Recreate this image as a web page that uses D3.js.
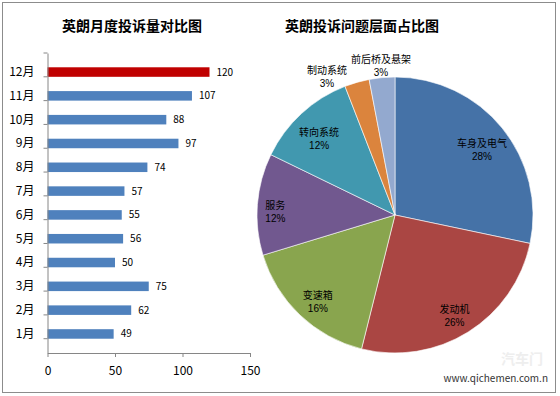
<!DOCTYPE html>
<html>
<head>
<meta charset="utf-8">
<script src="https://cdn.jsdelivr.net/npm/d3@7"></script>
<style>
  body { margin: 0; background: #fff; }
  svg text { font-family: "Noto Sans CJK SC", "DejaVu Sans", sans-serif; fill: #000; }
</style>
</head>
<body>
<div id="chart"></div>
<script>
// ---- data ----
const months = ["1月", "2月", "3月", "4月", "5月", "6月", "7月", "8月", "9月", "10月", "11月", "12月"];
const monthCounts = [49, 62, 75, 50, 56, 55, 57, 74, 97, 88, 107, 120];
const xTicks = [0, 50, 100, 150];

const issueNames = ["车身及电气", "发动机", "变速箱", "服务", "转向系统", "制动系统", "前后桥及悬架"];
const issueShares = [28.3, 25.6, 16.4, 11.9, 11.9, 2.9, 3.0];
const issueColors = ["#4572a7", "#aa4643", "#89a54e", "#71588f", "#4198af", "#db843d", "#93a9cf"];

const barTitle = "英朗月度投诉量对比图";
const pieTitle = "英朗投诉问题层面占比图";

const W = 560, H = 396;
const svg = d3.select("#chart").append("svg").attr("width", W).attr("height", H);

// outer frame
svg.append("rect")
  .attr("x", 2.5).attr("y", 2.5).attr("width", 553).attr("height", 390)
  .attr("fill", "#fff").attr("stroke", "#8c8c8c").attr("stroke-width", 1);

//---------------- bar chart ----------------
const bar = {left: 47.5, right: 250, top: 53, bottom: 353};

const x = d3.scaleLinear().domain([0, 150]).range([bar.left, bar.right]);
const y = d3.scaleBand().domain(months.slice().reverse()).range([bar.top, bar.bottom]).padding(0.6);

svg.append("text")
  .attr("x", 132).attr("y", 31)
  .attr("text-anchor", "middle")
  .style("font-size", "14px").style("font-weight", "bold")
  .text(barTitle);

svg.append("g").selectAll("rect")
  .data(months)
  .enter().append("rect")
  .attr("x", x(0))
  .attr("y", d => y(d))
  .attr("width", (d, i) => x(monthCounts[i]) - x(0))
  .attr("height", y.bandwidth())
  .attr("fill", d => d === "12月" ? "#c00000" : "#4f81bd");

svg.append("g").selectAll("text")
  .data(months)
  .enter().append("text")
  .attr("x", (d, i) => x(monthCounts[i]) + 7)
  .attr("y", d => y(d) + y.bandwidth() / 2)
  .attr("dy", ".35em")
  .style("font-size", "10px")
  .text((d, i) => monthCounts[i]);

// y axis: labels at band centers, ticks on band boundaries
const yAxis = svg.append("g")
  .attr("transform", "translate(" + bar.left + ",0)")
  .call(d3.axisLeft(y).tickSize(0).tickPadding(13));
yAxis.select(".domain").attr("stroke", "#868686");
yAxis.selectAll("text").style("font-size", "12px").attr("font-family", null);

const bounds = d3.range(months.length + 1).map(i => bar.top + i * y.step());
svg.append("g").selectAll("line")
  .data(bounds)
  .enter().append("line")
  .attr("x1", bar.left - 4).attr("x2", bar.left)
  .attr("y1", d => d).attr("y2", d => d)
  .attr("stroke", "#868686");

const xAxis = svg.append("g")
  .attr("transform", "translate(0," + bar.bottom + ")")
  .call(d3.axisBottom(x).tickValues(xTicks).tickSize(4).tickPadding(9).tickSizeOuter(0));
xAxis.select(".domain").attr("stroke", "#868686");
xAxis.selectAll("line").attr("stroke", "#868686");
xAxis.selectAll("text").style("font-size", "12px").attr("font-family", null);

//---------------- pie chart ----------------
const cx = 395, cy = 215, r = 138;

svg.append("text")
  .attr("x", 362).attr("y", 31)
  .attr("text-anchor", "middle")
  .style("font-size", "14px").style("font-weight", "bold")
  .text(pieTitle);

const total = d3.sum(issueShares);
const pie = d3.pie().sort(null).value(d => d)(issueShares);
const arc = d3.arc().innerRadius(0).outerRadius(r);
const inLabelArc = d3.arc().innerRadius(112).outerRadius(112);
const outLabelArc = d3.arc().innerRadius(150).outerRadius(150);

const pg = svg.append("g").attr("transform", "translate(" + cx + "," + cy + ")");

pg.selectAll("path")
  .data(pie)
  .enter().append("path")
  .attr("d", arc)
  .attr("fill", (d, i) => issueColors[i])
  .attr("stroke", "#fff").attr("stroke-width", 0.6);

// label positions; small slices go outside, nudged apart when they collide
const labels = pie.map((d, i) => {
  const share = d.value / total;
  const outside = share < 0.05;
  const p = (outside ? outLabelArc : inLabelArc).centroid(d);
  const w = issueNames[i].length * 10;
  return {i: i, x: p[0], y: p[1] + (outside ? 0 : 6), w: w, pct: Math.round(share * 100) + "%", outside: outside};
});
const outs = labels.filter(l => l.outside).reverse();
for (let k = 1; k < outs.length; k++) {
  const prev = outs[k - 1], cur = outs[k];
  const overlap = (cur.x + cur.w / 2) - (prev.x - prev.w / 2) + 4;
  if (overlap > 0) { cur.x -= overlap; cur.y += 6; }
}
labels.forEach(l => { if (l.i === 3) l.x -= 8; }); // 服务 sits nearer the rim

const lg = pg.selectAll("g.lbl")
  .data(labels)
  .enter().append("g")
  .attr("class", "lbl")
  .attr("transform", d => "translate(" + d.x + "," + d.y + ")");
lg.append("text")
  .attr("text-anchor", "middle")
  .attr("y", -3)
  .style("font-size", "10px")
  .text(d => issueNames[d.i]);
lg.append("text")
  .attr("text-anchor", "middle")
  .attr("y", 10)
  .style("font-size", "10px")
  .style("font-family", "'Liberation Sans', Arial, sans-serif")
  .text(d => d.pct);

// watermark
svg.append("text")
  .attr("x", 522).attr("y", 364)
  .attr("text-anchor", "middle")
  .style("font-size", "14px").style("font-weight", "bold")
  .style("fill", "#eeeeee")
  .text("汽车门");
svg.append("text")
  .attr("x", 548).attr("y", 382)
  .attr("text-anchor", "end")
  .style("font-size", "10px").style("fill", "#333")
  .text("www.qichemen.com.n");
</script>
</body>
</html>
